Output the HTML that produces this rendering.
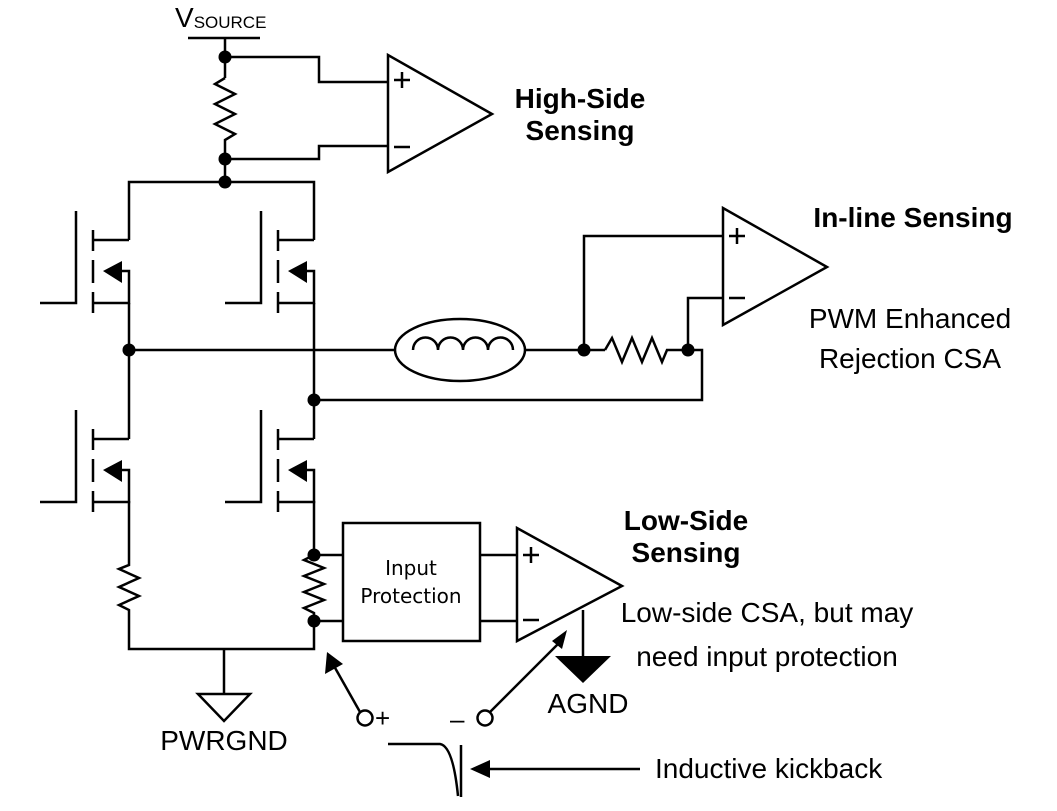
<!DOCTYPE html>
<html><head><meta charset="utf-8"><style>
html,body{margin:0;padding:0;background:#fff}
svg{display:block}
text{font-family:"Liberation Sans",sans-serif;fill:#000}
</style></head><body>
<svg width="1057" height="811" viewBox="0 0 1057 811" xmlns="http://www.w3.org/2000/svg">
<defs>
<g id="mos" fill="none" stroke="#000" stroke-width="2.5">
  <path d="M93 230V251M93 260V283M93 292V313"/>
  <path d="M93 240H129M122 271H129V303H93"/>
  <path d="M76 211V303H40"/>
  <polygon points="103,271 122,261 122,283" fill="#000" stroke="none"/>
</g>
</defs>
<g fill="none" stroke="#000" stroke-width="2.5">
  <path d="M188 38H260M225 38V78"/>
  <path d="M225 78L215 84L235 94L215 104L235 114L215 124L235 134L225 140V182"/>
  <path d="M225 57H319V82H388M225 159H319V146H388"/>
  <polygon points="388,55 388,172 492,114"/>
  <path d="M129 240V182H314V240"/>
  <path d="M129 303V439M314 303V439M129 350H395M525 350H605"/>
  <ellipse cx="460" cy="350" rx="65" ry="31"/>
  <path d="M413 350A12.5 12.5 0 0 1 438 350A12.5 12.5 0 0 1 463 350A12.5 12.5 0 0 1 488 350A12.5 12.5 0 0 1 513 350"/>
  <path d="M605 350L612 338L622 362L632 338L642 362L652 338L662 362L667 350H702V400H314"/>
  <path d="M584 350V236H723M688 350V298H723"/>
  <polygon points="723,208 723,325 827,267"/>
  <path d="M129 501V565L119 569L139 578L119 587L139 596L119 605L129 610V649H314V621"/>
  <path d="M314 501V555L304 560L324 568L304 576L324 584L304 592L324 600L304 608L314 613V621"/>
  <path d="M314 555H343M314 621H343M480 555H517M480 621H517"/>
  <rect x="343" y="523" width="137" height="118"/>
  <polygon points="517,528 517,641 622,586"/>
  <path d="M583 610V656"/>
  <path d="M224 649V694"/>
  <polygon points="198,694 250,694 224,721"/>
  <path d="M360 712L334 666"/>
  <circle cx="365" cy="718" r="7.5"/>
  <path d="M490 712L562 640"/>
  <circle cx="485" cy="718" r="7.5"/>
  <path d="M388 744H440Q453 746 458 796M461 745V797"/>
  <path d="M640 769H485"/>
</g>
<use href="#mos"/>
<use href="#mos" x="185"/>
<use href="#mos" y="199"/>
<use href="#mos" x="185" y="199"/>
<g fill="#000">
  <circle cx="225" cy="57" r="6.5"/><circle cx="225" cy="159" r="6.5"/><circle cx="225" cy="182" r="6.5"/>
  <circle cx="129" cy="350" r="6.5"/><circle cx="314" cy="400" r="6.5"/>
  <circle cx="584" cy="350" r="6.5"/><circle cx="688" cy="350" r="6.5"/>
  <circle cx="314" cy="555" r="6.5"/><circle cx="314" cy="621" r="6.5"/>
  <polygon points="555,656 611,656 583,683"/>
  <polygon points="327,652 325,674 343,664"/>
  <polygon points="567,630 552,641 562,649"/>
  <polygon points="470,769 490,760 490,778"/>
</g>
<g stroke="#000" stroke-width="2.5">
  <path d="M394 80H410M402 72V88M394 147H410"/>
  <path d="M729 236H745M737 228V244M729 298H745"/>
  <path d="M523 555H539M531 547V563M523 620H539"/>
</g>
<text x="175" y="27" font-size="28">V<tspan font-size="17" dy="1">SOURCE</tspan></text>
<g font-weight="bold" font-size="28" text-anchor="middle">
  <text x="580" y="108">High-Side</text><text x="580" y="140">Sensing</text>
  <text x="913" y="227">In-line Sensing</text>
  <text x="686" y="530">Low-Side</text><text x="686" y="562">Sensing</text>
</g>
<g font-size="28" text-anchor="middle">
  <text x="910" y="328">PWM Enhanced</text><text x="910" y="368">Rejection CSA</text>
  <text x="767" y="622">Low-side CSA, but may</text><text x="767" y="666">need input protection</text>
  <text x="588" y="713">AGND</text>
  <text x="224" y="750">PWRGND</text>
</g>
<text x="655" y="778" font-size="28">Inductive kickback</text>
<text x="411" y="575" font-size="20" text-anchor="middle" style="font-family:'DejaVu Sans',sans-serif">Input</text>
<text x="411" y="603" font-size="20" text-anchor="middle" style="font-family:'DejaVu Sans',sans-serif">Protection</text>
<text x="375" y="727" font-size="26">+</text>
<text x="450" y="728" font-size="26">–</text>
</svg>
</body></html>
